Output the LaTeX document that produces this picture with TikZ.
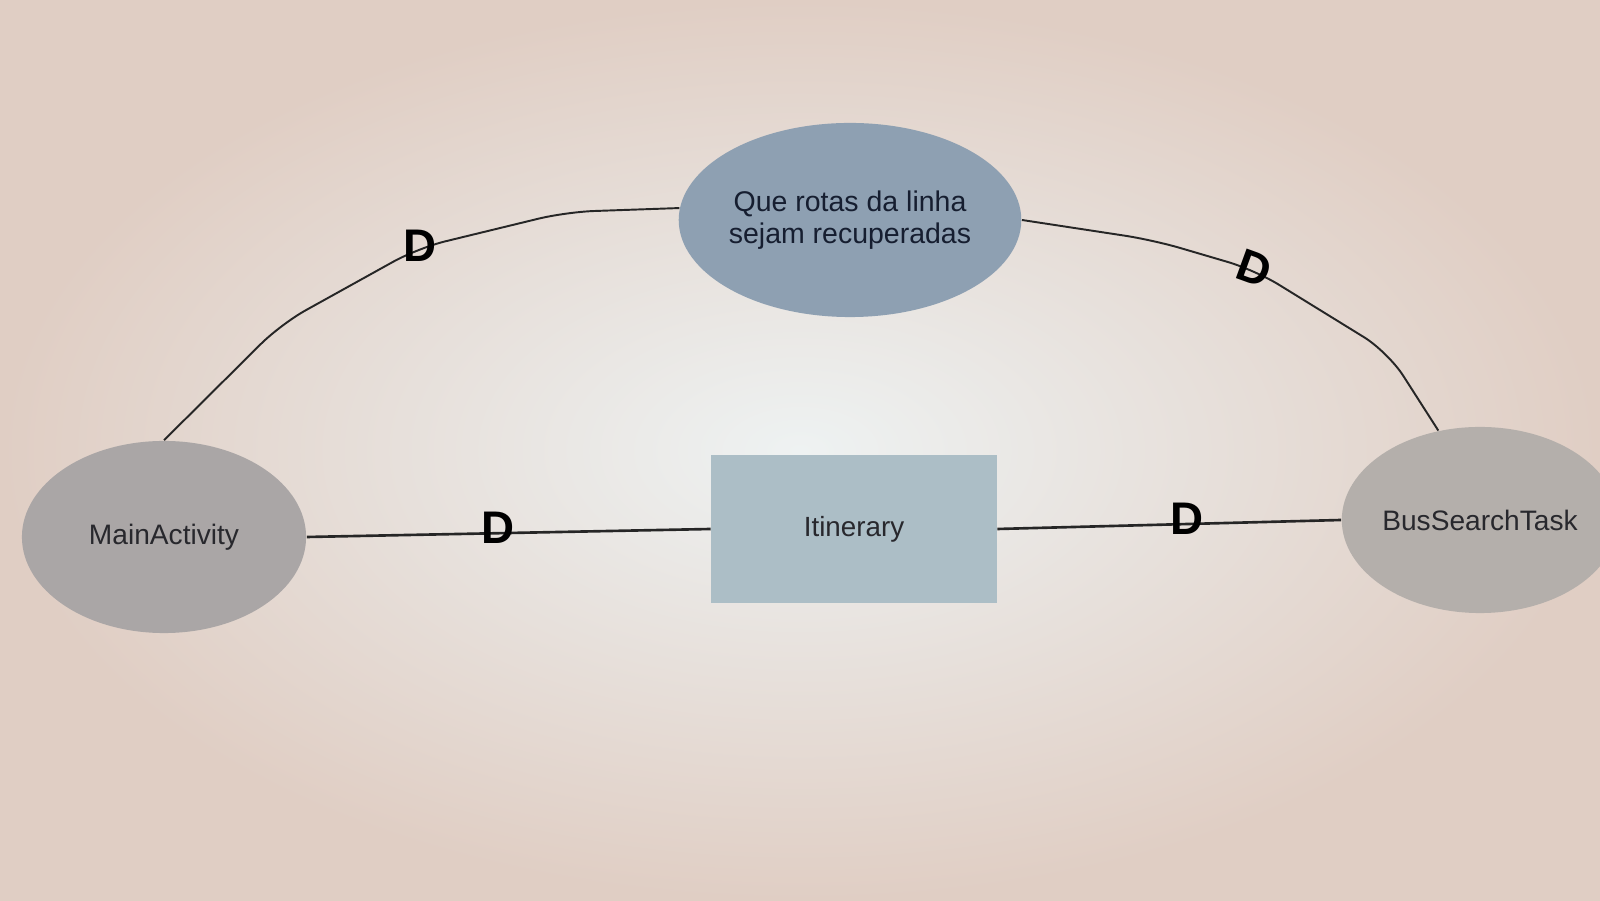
\documentclass[tikz,border=0pt]{standalone}
\usepackage{fontspec}
\setmainfont{Liberation Sans}
\usetikzlibrary{shapes.geometric}
\definecolor{bgout}{RGB}{224,206,196}
\definecolor{bgin}{RGB}{238,242,242}
\definecolor{actorgrey}{RGB}{170,166,166}
\definecolor{busgrey}{RGB}{180,175,171}
\definecolor{goalblue}{RGB}{142,160,178}
\definecolor{resblue}{RGB}{172,190,198}
\definecolor{labeltext}{RGB}{40,40,45}
\definecolor{goaltext}{RGB}{22,30,48}
\begin{document}
\begin{tikzpicture}[x=0.01cm,y=-0.01cm,
		actor/.style={ellipse,fill=actorgrey,minimum width=2.84cm,minimum height=1.92cm,inner sep=0pt,text=labeltext,font=\fontsize{8}{9}\selectfont},
		goal/.style={ellipse,fill=goalblue,minimum width=2.86cm,minimum height=1.94cm,inner sep=0pt,align=center,text=goaltext,font=\fontsize{8.1}{9.2}\selectfont},
		resource/.style={rectangle,fill=resblue,minimum width=2.85cm,minimum height=1.48cm,inner sep=0pt,text=labeltext,font=\fontsize{7.9}{9}\selectfont},
		dlink/.style={line width=0.55pt,rounded corners=8pt,draw=black!85},
		dmark/.style={inner sep=0pt,text=black,font=\fontsize{13}{13}\selectfont\bfseries}]
		\useasboundingbox (0,0) rectangle (1600,901);
		\clip (0,0) rectangle (1600,901);
		\shade[inner color=bgin,outer color=bgout] (0,0) rectangle (1600,901);

		\node[actor] (main) at (164,537) {MainActivity};
		\node[goal] (rotas) at (850,220) {Que rotas da linha\\sejam recuperadas};
		\node[resource] (itin) at (854,529) {Itinerary};
		\node[actor,fill=busgrey,minimum width=2.7cm,minimum height=1.86cm] (bus) at (1480,520) {BusSearchTask};

		\draw[dlink] (main.north) -- (281,324) -- (418,248) -- (566,212) -- (rotas.176);
		\draw[dlink] (rotas.east) -- (1153,240) -- (1255,270) -- (1388,352) -- (bus.115);
		\draw[dlink,line width=0.75pt] (main.east) -- (itin.west);
		\draw[dlink,line width=0.75pt] (itin.east) -- (bus.west);

		\node[dmark] (d1) at (420,246) {D};
		\node[dmark,rotate=-20] (d2) at (1254,268) {D};
		\node[dmark] (d3) at (498,528) {D};
		\node[dmark] (d4) at (1187,519) {D};
	\end{tikzpicture}
\end{document}
